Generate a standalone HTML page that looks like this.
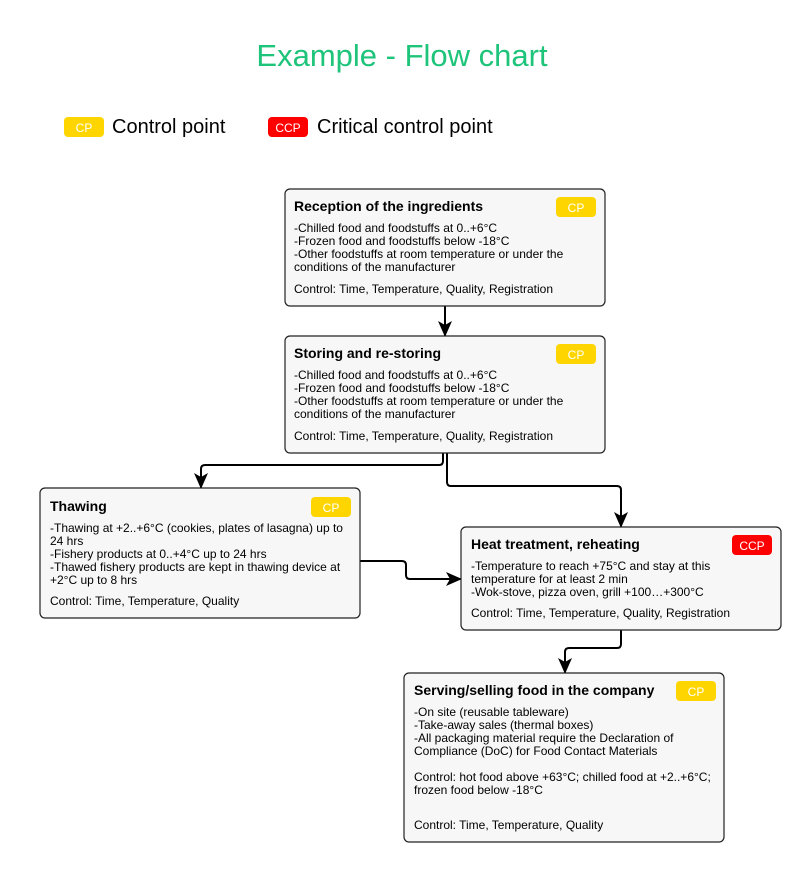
<!DOCTYPE html>
<html><head><meta charset="utf-8"><style>
html,body{margin:0;padding:0;background:#fff;}
svg{display:block;font-family:"Liberation Sans",sans-serif;}
.h{font-size:14px;font-weight:bold;fill:#000;}
.b{font-size:12px;fill:#000;}
.box{fill:#f7f7f7;stroke:#222;stroke-width:1.2;}
.bt{font-size:12px;fill:#fff;text-anchor:middle;}
.c{fill:none;stroke:#000;stroke-width:2;stroke-linejoin:round;}
</style></head><body>
<svg width="804" height="874" viewBox="0 0 804 874" xmlns="http://www.w3.org/2000/svg">
<defs><marker id="ar" viewBox="0 0 16 16" markerWidth="16" markerHeight="16" refX="15" refY="8" orient="auto" markerUnits="userSpaceOnUse"><path d="M0,1 L16,8 L0,15 L4,8 Z" fill="#000"/></marker></defs>
<text x="402" y="66" text-anchor="middle" font-size="31" fill="#1dc47a">Example - Flow chart</text>
<rect x="64" y="117" width="40" height="20" rx="4" fill="#ffd500"/><text x="84" y="132" class="bt" font-size="13">CP</text>
<text x="112" y="133" font-size="20">Control point</text>
<rect x="268" y="117" width="40" height="20" rx="4" fill="#ff0000"/><text x="288" y="132" class="bt" font-size="13">CCP</text>
<text x="317" y="133" font-size="20">Critical control point</text>

<path class="c" d="M445,306 L445,336" marker-end="url(#ar)"/>
<path class="c" d="M443,453 L443,461 Q443,465 439,465 L205,465 Q201,465 201,469 L201,488" marker-end="url(#ar)"/>
<path class="c" d="M447,453 L447,482 Q447,486 451,486 L617,486 Q621,486 621,490 L621,527" marker-end="url(#ar)"/>
<path class="c" d="M360,561 L402,561 Q406,561 406,565 L406,575 Q406,579 410,579 L461,579" marker-end="url(#ar)"/>
<path class="c" d="M621,630 L621,644 Q621,648 617,648 L569,648 Q565,648 565,652 L565,673" marker-end="url(#ar)"/>

<rect class="box" x="285" y="189" width="320" height="117" rx="5"/>
<text class="h" x="294" y="211">Reception of the ingredients</text>
<rect x="556" y="197" width="40" height="20" rx="4" fill="#ffd500"/><text class="bt" x="576" y="212">CP</text>
<text class="b" x="294" y="232">-Chilled food and foodstuffs at 0..+6°C</text>
<text class="b" x="294" y="245">-Frozen food and foodstuffs below -18°C</text>
<text class="b" x="294" y="258">-Other foodstuffs at room temperature or under the</text>
<text class="b" x="294" y="271">conditions of the manufacturer</text>
<text class="b" x="294" y="293">Control: Time, Temperature, Quality, Registration</text>

<rect class="box" x="285" y="336" width="320" height="117" rx="5"/>
<text class="h" x="294" y="358">Storing and re-storing</text>
<rect x="556" y="344" width="40" height="20" rx="4" fill="#ffd500"/><text class="bt" x="576" y="359">CP</text>
<text class="b" x="294" y="379">-Chilled food and foodstuffs at 0..+6°C</text>
<text class="b" x="294" y="392">-Frozen food and foodstuffs below -18°C</text>
<text class="b" x="294" y="405">-Other foodstuffs at room temperature or under the</text>
<text class="b" x="294" y="418">conditions of the manufacturer</text>
<text class="b" x="294" y="440">Control: Time, Temperature, Quality, Registration</text>

<rect class="box" x="40" y="488" width="320" height="130" rx="5"/>
<text class="h" x="50" y="511">Thawing</text>
<rect x="311" y="497" width="40" height="20" rx="4" fill="#ffd500"/><text class="bt" x="331" y="512">CP</text>
<text class="b" x="50" y="532">-Thawing at +2..+6°C (cookies, plates of lasagna) up to</text>
<text class="b" x="50" y="545">24 hrs</text>
<text class="b" x="50" y="558">-Fishery products at 0..+4°C up to 24 hrs</text>
<text class="b" x="50" y="571">-Thawed fishery products are kept in thawing device at</text>
<text class="b" x="50" y="584">+2°C up to 8 hrs</text>
<text class="b" x="50" y="605">Control: Time, Temperature, Quality</text>

<rect class="box" x="461" y="527" width="320" height="103" rx="5"/>
<text class="h" x="471" y="549">Heat treatment, reheating</text>
<rect x="732" y="535" width="40" height="20" rx="4" fill="#ff0000"/><text class="bt" x="752" y="550">CCP</text>
<text class="b" x="471" y="570">-Temperature to reach +75°C and stay at this</text>
<text class="b" x="471" y="583">temperature for at least 2 min</text>
<text class="b" x="471" y="596">-Wok-stove, pizza oven, grill +100…+300°C</text>
<text class="b" x="471" y="617">Control: Time, Temperature, Quality, Registration</text>

<rect class="box" x="404" y="673" width="320" height="169" rx="5"/>
<text class="h" x="414" y="695">Serving/selling food in the company</text>
<rect x="676" y="681" width="40" height="20" rx="4" fill="#ffd500"/><text class="bt" x="696" y="696">CP</text>
<text class="b" x="414" y="716">-On site (reusable tableware)</text>
<text class="b" x="414" y="729">-Take-away sales (thermal boxes)</text>
<text class="b" x="414" y="742">-All packaging material require the Declaration of</text>
<text class="b" x="414" y="755">Compliance (DoC) for Food Contact Materials</text>
<text class="b" x="414" y="781">Control: hot food above +63°C; chilled food at +2..+6°C;</text>
<text class="b" x="414" y="794">frozen food below -18°C</text>
<text class="b" x="414" y="829">Control: Time, Temperature, Quality</text>
</svg>
</body></html>
